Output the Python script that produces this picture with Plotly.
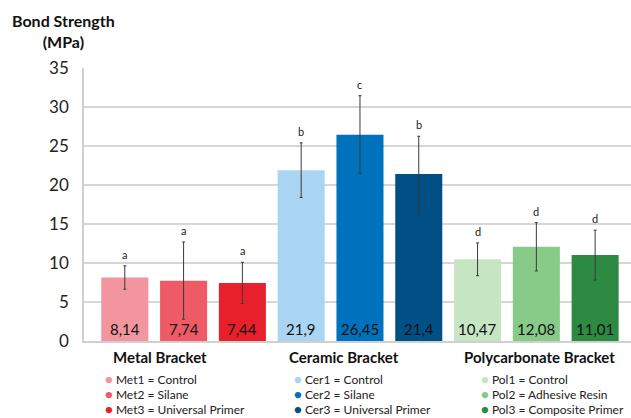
import plotly.graph_objects as go

# Shear bond strength per bracket/surface treatment group
groups = ["Met1", "Met2", "Met3", "Cer1", "Cer2", "Cer3", "Pol1", "Pol2", "Pol3"]
means = [8.14, 7.74, 7.44, 21.9, 26.45, 21.4, 10.47, 12.08, 11.01]
value_labels = ["8,14", "7,74", "7,44", "21,9", "26,45", "21,4", "10,47", "12,08", "11,01"]
sd = [1.5, 4.95, 2.65, 3.5, 5.0, 4.85, 2.1, 3.1, 3.2]
letters = ["a", "a", "a", "b", "c", "b", "d", "d", "d"]
colors = ["#F3959F", "#EE5A66", "#E8202B",
          "#A9D5F3", "#0071BD", "#004F85",
          "#C6E6C3", "#88CB89", "#2D8A42"]

bracket_names = ["Metal Bracket", "Ceramic Bracket", "Polycarbonate Bracket"]
bracket_label_x = [0.6, 3.73, 7.06]
legend_rows = [
    ["Met1 = Control", "Met2 = Silane", "Met3 = Universal Primer"],
    ["Cer1 = Control", "Cer2 = Silane", "Cer3 = Universal Primer"],
    ["Pol1 = Control", "Pol2 = Adhesive Resin", "Pol3 = Composite Primer"],
]
legend_x = [104, 293, 480]
yticks = [0, 5, 10, 15, 20, 25, 30, 35]

FONT = "Lato, 'Open Sans', sans-serif"
PLOT_L, PLOT_W = 84, 547     # plot area left edge / width in px
BOTTOM, PLOT_H = 341, 273    # plot area bottom / height in px


def paper_x(px):
    return (px - PLOT_L) / PLOT_W


def paper_y(py):
    return (BOTTOM - py) / PLOT_H


xpos = list(range(len(groups)))

fig = go.Figure()
fig.add_trace(go.Bar(
    x=xpos, y=means, width=0.8,
    marker=dict(color=colors, line=dict(width=0)),
    error_y=dict(type="data", array=sd, visible=True, color="#3a3a3a",
                 thickness=1, width=1.5),
    hoverinfo="skip", showlegend=False,
))

# value labels at the base of each bar
for x, v in zip(xpos, value_labels):
    fig.add_annotation(x=x, y=0, yref="y", text=v, showarrow=False,
                       yanchor="bottom", yshift=1,
                       font=dict(family=FONT, size=15, color="#111"))

# significance letters above error bars
for x, m, s, l in zip(xpos, means, sd, letters):
    fig.add_annotation(x=x, y=m + s, text=l, showarrow=False,
                       yanchor="bottom", yshift=3,
                       font=dict(family=FONT, size=11, color="#222"))

# bracket group headings
for name, gx in zip(bracket_names, bracket_label_x):
    fig.add_annotation(x=gx, xref="x", y=paper_y(357), yref="paper",
                       yanchor="middle", text=f"<b>{name}</b>",
                       showarrow=False,
                       font=dict(family=FONT, size=15, color="#111"))

# legend lines: colored dot + description
for col, (rows, lx) in enumerate(zip(legend_rows, legend_x)):
    for r, txt in enumerate(rows):
        c = colors[col * 3 + r]
        fig.add_annotation(
            x=paper_x(lx), xref="paper", xanchor="left",
            y=paper_y(379 + 15 * r), yref="paper", yanchor="middle",
            height=14, valign="middle",
            text=f"<span style='color:{c};font-size:13px'>●</span> {txt}",
            showarrow=False, borderpad=0,
            font=dict(family=FONT, size=12, color="#222"))

fig.add_annotation(x=paper_x(63), xref="paper", y=paper_y(31), yref="paper",
                   yanchor="middle",
                   text="<b>Bond Strength<br>(MPa)</b>", showarrow=False,
                   xanchor="center", align="center",
                   font=dict(family=FONT, size=16, color="#111"))

fig.update_layout(
    width=631, height=418,
    margin=dict(l=PLOT_L, r=0, t=68, b=77),
    plot_bgcolor="white", paper_bgcolor="white",
    xaxis=dict(range=[-0.694, 8.61], showticklabels=False, showgrid=False,
               zeroline=False, showline=True, linecolor="#D0D0D0",
               linewidth=1.5, fixedrange=True),
    yaxis=dict(range=[0, 35], tickvals=yticks, showgrid=True,
               gridcolor="#D6D6D6", gridwidth=1.5, zeroline=False,
               showline=True, linecolor="#D0D0D0", linewidth=1.5,
               ticks="", ticklabelstandoff=10,
               tickfont=dict(family=FONT, size=17, color="#222")),
    bargap=0.2,
)

fig.write_html("out.html")
